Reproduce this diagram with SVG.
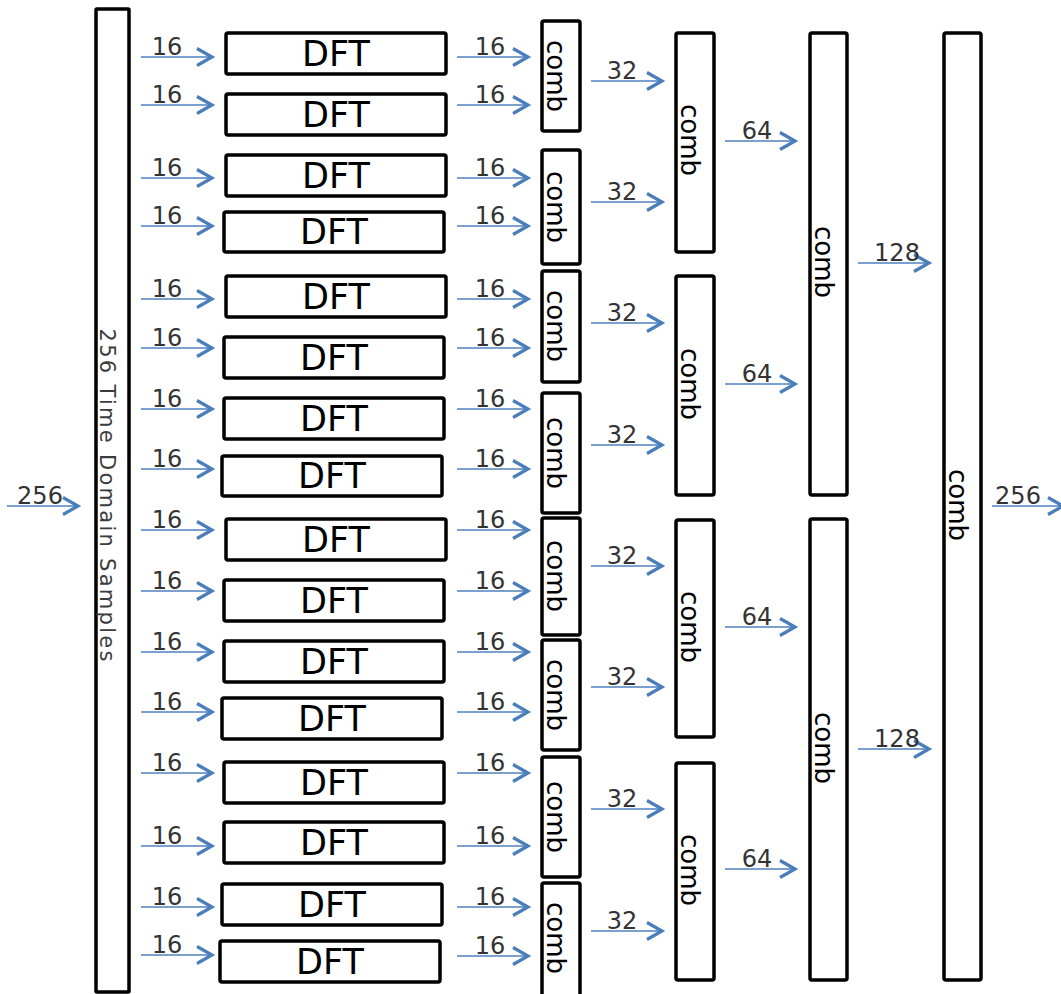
<svg xmlns="http://www.w3.org/2000/svg" width="1061" height="994" viewBox="0 0 1061 994">
<style>
.box{fill:#fff;stroke:#000;stroke-width:3.5}
.t{font-family:"DejaVu Sans",sans-serif;fill:#000;text-anchor:middle}
.dft{font-size:35px}
.comb{font-size:26px}
.lbl{font-family:"DejaVu Sans",sans-serif;font-size:24px;fill:#333;text-anchor:middle}
.side{font-family:"DejaVu Sans",sans-serif;font-size:21px;fill:#3c3c3c;text-anchor:middle}
.ar{stroke:#4f81bd;stroke-width:1.5;fill:none;marker-end:url(#chev)}
</style>
<defs>
<marker id="chev" markerUnits="userSpaceOnUse" markerWidth="20" markerHeight="20" refX="15" refY="8.5" orient="auto" overflow="visible">
<path d="M0,0 L15,8.5 L0,17" fill="none" stroke="#4a7ebb" stroke-width="3.2"/>
</marker>
</defs>
<rect width="1061" height="994" fill="#fff"/>

<g id="input-samples">
<rect class="box" x="96" y="9" width="33" height="983" rx="1"/>
<text class="side" transform="translate(112,495) rotate(90)" y="12" textLength="333" lengthAdjust="spacing">256 Time Domain Samples</text>
</g>

<g id="dft1"><rect class="box" x="226" y="33" width="220" height="41" rx="2"/><text class="t dft" x="336" y="66">DFT</text></g>
<g id="dft2"><rect class="box" x="226" y="94" width="220" height="41" rx="2"/><text class="t dft" x="336" y="127">DFT</text></g>
<g id="dft3"><rect class="box" x="226" y="155" width="220" height="41" rx="2"/><text class="t dft" x="336" y="188">DFT</text></g>
<g id="dft4"><rect class="box" x="224" y="212" width="220" height="40" rx="2"/><text class="t dft" x="334" y="244">DFT</text></g>
<g id="dft5"><rect class="box" x="226" y="276" width="220" height="41" rx="2"/><text class="t dft" x="336" y="309">DFT</text></g>
<g id="dft6"><rect class="box" x="224" y="337" width="220" height="41" rx="2"/><text class="t dft" x="334" y="370">DFT</text></g>
<g id="dft7"><rect class="box" x="224" y="398" width="220" height="41" rx="2"/><text class="t dft" x="334" y="431">DFT</text></g>
<g id="dft8"><rect class="box" x="222" y="456" width="220" height="40" rx="2"/><text class="t dft" x="332" y="488">DFT</text></g>
<g id="dft9"><rect class="box" x="226" y="519" width="220" height="41" rx="2"/><text class="t dft" x="336" y="552">DFT</text></g>
<g id="dft10"><rect class="box" x="224" y="580" width="220" height="41" rx="2"/><text class="t dft" x="334" y="613">DFT</text></g>
<g id="dft11"><rect class="box" x="224" y="641" width="220" height="41" rx="2"/><text class="t dft" x="334" y="674">DFT</text></g>
<g id="dft12"><rect class="box" x="222" y="698" width="220" height="41" rx="2"/><text class="t dft" x="332" y="731">DFT</text></g>
<g id="dft13"><rect class="box" x="224" y="762" width="220" height="41" rx="2"/><text class="t dft" x="334" y="795">DFT</text></g>
<g id="dft14"><rect class="box" x="224" y="822" width="220" height="41" rx="2"/><text class="t dft" x="334" y="855">DFT</text></g>
<g id="dft15"><rect class="box" x="222" y="884" width="220" height="41" rx="2"/><text class="t dft" x="332" y="917">DFT</text></g>
<g id="dft16"><rect class="box" x="220" y="941" width="220" height="41" rx="2"/><text class="t dft" x="330" y="974">DFT</text></g>

<g id="comb1-1"><rect class="box" x="542" y="21" width="38" height="110" rx="2"/><text class="t comb" transform="translate(561,76) rotate(90)" y="14">comb</text></g>
<g id="comb1-2"><rect class="box" x="542" y="150" width="38" height="114" rx="2"/><text class="t comb" transform="translate(561,207) rotate(90)" y="14">comb</text></g>
<g id="comb1-3"><rect class="box" x="542" y="271" width="38" height="111" rx="2"/><text class="t comb" transform="translate(561,326) rotate(90)" y="14">comb</text></g>
<g id="comb1-4"><rect class="box" x="542" y="393" width="38" height="120" rx="2"/><text class="t comb" transform="translate(561,453) rotate(90)" y="14">comb</text></g>
<g id="comb1-5"><rect class="box" x="542" y="518" width="38" height="117" rx="2"/><text class="t comb" transform="translate(561,576) rotate(90)" y="14">comb</text></g>
<g id="comb1-6"><rect class="box" x="542" y="640" width="38" height="110" rx="2"/><text class="t comb" transform="translate(561,695) rotate(90)" y="14">comb</text></g>
<g id="comb1-7"><rect class="box" x="542" y="757" width="38" height="120" rx="2"/><text class="t comb" transform="translate(561,817) rotate(90)" y="14">comb</text></g>
<g id="comb1-8"><rect class="box" x="542" y="883" width="38" height="120" rx="2"/><text class="t comb" transform="translate(561,938) rotate(90)" y="14">comb</text></g>

<g id="comb2-1"><rect class="box" x="676" y="33" width="38" height="219" rx="2"/><text class="t comb" transform="translate(695,140) rotate(90)" y="14">comb</text></g>
<g id="comb2-2"><rect class="box" x="676" y="276" width="38" height="219" rx="2"/><text class="t comb" transform="translate(695,384) rotate(90)" y="14">comb</text></g>
<g id="comb2-3"><rect class="box" x="676" y="520" width="38" height="217" rx="2"/><text class="t comb" transform="translate(695,627) rotate(90)" y="14">comb</text></g>
<g id="comb2-4"><rect class="box" x="676" y="763" width="38" height="217" rx="2"/><text class="t comb" transform="translate(695,870) rotate(90)" y="14">comb</text></g>

<g id="comb3-1"><rect class="box" x="810" y="33" width="37" height="462" rx="2"/><text class="t comb" transform="translate(828.5,262) rotate(90)" y="14">comb</text></g>
<g id="comb3-2"><rect class="box" x="810" y="519" width="37" height="461" rx="2"/><text class="t comb" transform="translate(828.5,748) rotate(90)" y="14">comb</text></g>

<g id="comb4"><rect class="box" x="944" y="33" width="37" height="947" rx="2"/><text class="t comb" transform="translate(962.5,505) rotate(90)" y="14">comb</text></g>

<g id="connectors">
<line class="ar" x1="7" y1="506" x2="78" y2="506"/><text class="lbl" x="40" y="504">256</text>

<line class="ar" x1="141" y1="57" x2="212" y2="57"/><text class="lbl" x="167" y="55">16</text>
<line class="ar" x1="141" y1="105" x2="212" y2="105"/><text class="lbl" x="167" y="103">16</text>
<line class="ar" x1="141" y1="178" x2="212" y2="178"/><text class="lbl" x="167" y="176">16</text>
<line class="ar" x1="141" y1="226" x2="212" y2="226"/><text class="lbl" x="167" y="224">16</text>
<line class="ar" x1="141" y1="299" x2="212" y2="299"/><text class="lbl" x="167" y="297">16</text>
<line class="ar" x1="141" y1="348" x2="212" y2="348"/><text class="lbl" x="167" y="346">16</text>
<line class="ar" x1="141" y1="409" x2="212" y2="409"/><text class="lbl" x="167" y="407">16</text>
<line class="ar" x1="141" y1="469" x2="212" y2="469"/><text class="lbl" x="167" y="467">16</text>
<line class="ar" x1="141" y1="530" x2="212" y2="530"/><text class="lbl" x="167" y="528">16</text>
<line class="ar" x1="141" y1="591" x2="212" y2="591"/><text class="lbl" x="167" y="589">16</text>
<line class="ar" x1="141" y1="652" x2="212" y2="652"/><text class="lbl" x="167" y="650">16</text>
<line class="ar" x1="141" y1="712" x2="212" y2="712"/><text class="lbl" x="167" y="710">16</text>
<line class="ar" x1="141" y1="773" x2="212" y2="773"/><text class="lbl" x="167" y="771">16</text>
<line class="ar" x1="141" y1="846" x2="212" y2="846"/><text class="lbl" x="167" y="844">16</text>
<line class="ar" x1="141" y1="907" x2="212" y2="907"/><text class="lbl" x="167" y="905">16</text>
<line class="ar" x1="141" y1="955" x2="212" y2="955"/><text class="lbl" x="167" y="953">16</text>

<line class="ar" x1="457" y1="57" x2="528" y2="57"/><text class="lbl" x="490" y="55">16</text>
<line class="ar" x1="457" y1="105" x2="528" y2="105"/><text class="lbl" x="490" y="103">16</text>
<line class="ar" x1="457" y1="178" x2="528" y2="178"/><text class="lbl" x="490" y="176">16</text>
<line class="ar" x1="457" y1="226" x2="528" y2="226"/><text class="lbl" x="490" y="224">16</text>
<line class="ar" x1="457" y1="299" x2="528" y2="299"/><text class="lbl" x="490" y="297">16</text>
<line class="ar" x1="457" y1="348" x2="528" y2="348"/><text class="lbl" x="490" y="346">16</text>
<line class="ar" x1="457" y1="409" x2="528" y2="409"/><text class="lbl" x="490" y="407">16</text>
<line class="ar" x1="457" y1="469" x2="528" y2="469"/><text class="lbl" x="490" y="467">16</text>
<line class="ar" x1="457" y1="530" x2="528" y2="530"/><text class="lbl" x="490" y="528">16</text>
<line class="ar" x1="457" y1="591" x2="528" y2="591"/><text class="lbl" x="490" y="589">16</text>
<line class="ar" x1="457" y1="652" x2="528" y2="652"/><text class="lbl" x="490" y="650">16</text>
<line class="ar" x1="457" y1="712" x2="528" y2="712"/><text class="lbl" x="490" y="710">16</text>
<line class="ar" x1="457" y1="773" x2="528" y2="773"/><text class="lbl" x="490" y="771">16</text>
<line class="ar" x1="457" y1="846" x2="528" y2="846"/><text class="lbl" x="490" y="844">16</text>
<line class="ar" x1="457" y1="907" x2="528" y2="907"/><text class="lbl" x="490" y="905">16</text>
<line class="ar" x1="457" y1="956" x2="528" y2="956"/><text class="lbl" x="490" y="954">16</text>

<line class="ar" x1="591" y1="81" x2="662" y2="81"/><text class="lbl" x="622" y="79">32</text>
<line class="ar" x1="591" y1="202" x2="662" y2="202"/><text class="lbl" x="622" y="200">32</text>
<line class="ar" x1="591" y1="323" x2="662" y2="323"/><text class="lbl" x="622" y="321">32</text>
<line class="ar" x1="591" y1="445" x2="662" y2="445"/><text class="lbl" x="622" y="443">32</text>
<line class="ar" x1="591" y1="566" x2="662" y2="566"/><text class="lbl" x="622" y="564">32</text>
<line class="ar" x1="591" y1="687" x2="662" y2="687"/><text class="lbl" x="622" y="685">32</text>
<line class="ar" x1="591" y1="809" x2="662" y2="809"/><text class="lbl" x="622" y="807">32</text>
<line class="ar" x1="591" y1="931" x2="662" y2="931"/><text class="lbl" x="622" y="929">32</text>

<line class="ar" x1="725" y1="141" x2="795" y2="141"/><text class="lbl" x="757" y="139">64</text>
<line class="ar" x1="725" y1="384" x2="795" y2="384"/><text class="lbl" x="757" y="382">64</text>
<line class="ar" x1="725" y1="627" x2="795" y2="627"/><text class="lbl" x="757" y="625">64</text>
<line class="ar" x1="725" y1="869" x2="795" y2="869"/><text class="lbl" x="757" y="867">64</text>

<line class="ar" x1="858" y1="263" x2="929" y2="263"/><text class="lbl" x="897" y="261">128</text>
<line class="ar" x1="858" y1="749" x2="929" y2="749"/><text class="lbl" x="897" y="747">128</text>

<line class="ar" x1="992" y1="506" x2="1063" y2="506"/><text class="lbl" x="1018" y="504">256</text>
</g>
</svg>
